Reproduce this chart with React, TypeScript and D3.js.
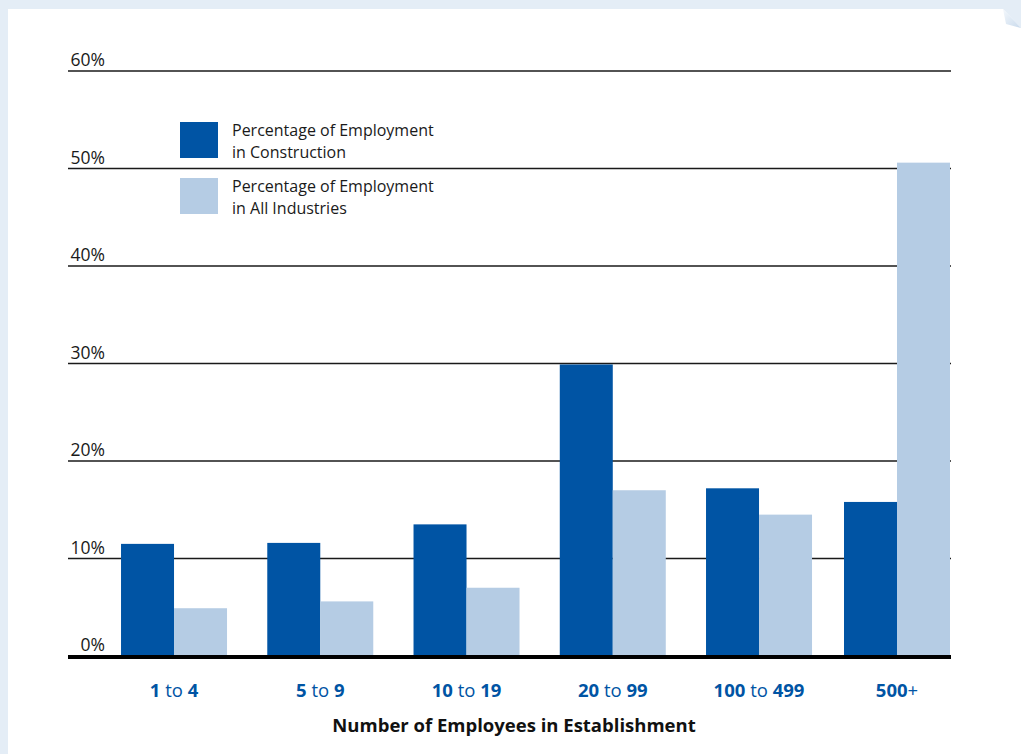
import React from "react";
import * as d3 from "d3";

const categories = ["1|4", "5|9", "10|19", "20|99", "100|499", "500+"];
const construction = [11.5, 11.6, 13.5, 29.9, 17.2, 15.8];
const allIndustries = [4.9, 5.6, 7.0, 17.0, 14.5, 50.6];
const yTicks = [0, 10, 20, 30, 40, 50, 60];
const legendLabels = [
  ["Percentage of Employment", "in Construction"],
  ["Percentage of Employment", "in All Industries"],
];
const axisTitle = "Number of Employees in Establishment";

const W = 1021;
const H = 754;
const DARK = "#0054a4";
const LIGHT = "#b5cce4";
const BG = "#e4edf6";
const FONT = "'Open Sans', 'Noto Sans', sans-serif";

export default function App() {
  const plotLeft = 68;
  const plotRight = 951;
  const y = d3.scaleLinear().domain([0, 60]).range([656, 71]);
  const x = d3
    .scaleBand()
    .domain(categories)
    .range([100.9, 978.4])
    .paddingInner(0)
    .paddingOuter(0);
  const bw = 53;
  const center = (c: string) => {
    const cx = (x(c) as number) + x.bandwidth() / 2;
    return Math.min(cx, plotRight - 1 - bw);
  };

  return (
    <svg
      width={W}
      height={H}
      style={{ position: "absolute", left: 0, top: 0, display: "block" }}
      fontFamily={FONT}
    >
      <defs>
        <linearGradient id="fold" x1="0" y1="0" x2="1" y2="1">
          <stop offset="0" stopColor="#f4f8fc" />
          <stop offset="1" stopColor="#c9daec" />
        </linearGradient>
      </defs>
      <rect x={0} y={0} width={W} height={H} fill={BG} />
      <path d={`M8,9 L1003,9 L${W},28 L${W},${H} L8,${H} Z`} fill="#ffffff" />
      <path d={`M1003,9 L${W},28 L1006,24 Z`} fill="url(#fold)" />

      {yTicks.map((t) => (
        <g key={t}>
          {t > 0 && (
            <line
              x1={plotLeft}
              x2={plotRight}
              y1={y(t)}
              y2={y(t)}
              stroke="#1a1a1a"
              strokeWidth={1.5}
            />
          )}
          <text
            x={105}
            y={y(t) - 5}
            fontSize={17.5}
            textAnchor="end"
            fill="#1a1a1a"
          >
            {t}%
          </text>
        </g>
      ))}

      {categories.map((c, i) => {
        const cx = center(c);
        return (
          <g key={c}>
            <rect
              x={cx - bw}
              y={y(construction[i])}
              width={bw}
              height={y(0) - y(construction[i])}
              fill={DARK}
            />
            <rect
              x={cx}
              y={y(allIndustries[i])}
              width={bw}
              height={y(0) - y(allIndustries[i])}
              fill={LIGHT}
            />
            <text
              x={cx}
              y={697}
              textAnchor="middle"
              fontSize={18.5}
              fill={DARK}
            >
              {c.includes("|") ? (
                <>
                  <tspan fontWeight="bold">{c.split("|")[0]}</tspan>
                  <tspan> to </tspan>
                  <tspan fontWeight="bold">{c.split("|")[1]}</tspan>
                </>
              ) : (
                <>
                  <tspan fontWeight="bold">{c.replace("+", "")}</tspan>
                  <tspan>+</tspan>
                </>
              )}
            </text>
          </g>
        );
      })}

      <line
        x1={plotLeft}
        x2={plotRight}
        y1={y(0) + 1}
        y2={y(0) + 1}
        stroke="#000"
        strokeWidth={4}
      />

      {legendLabels.map((lines, i) => (
        <g key={i} transform={`translate(180, ${122 + i * 56})`}>
          <rect width={38} height={36} fill={i === 0 ? DARK : LIGHT} />
          <text x={52} y={14} fontSize={16} fill="#1a1a1a">
            {lines[0]}
          </text>
          <text x={52} y={36} fontSize={16} fill="#1a1a1a">
            {lines[1]}
          </text>
        </g>
      ))}

      <text
        x={514}
        y={732}
        textAnchor="middle"
        fontSize={18.5}
        fontWeight="bold"
        fill="#111"
      >
        {axisTitle}
      </text>
    </svg>
  );
}
